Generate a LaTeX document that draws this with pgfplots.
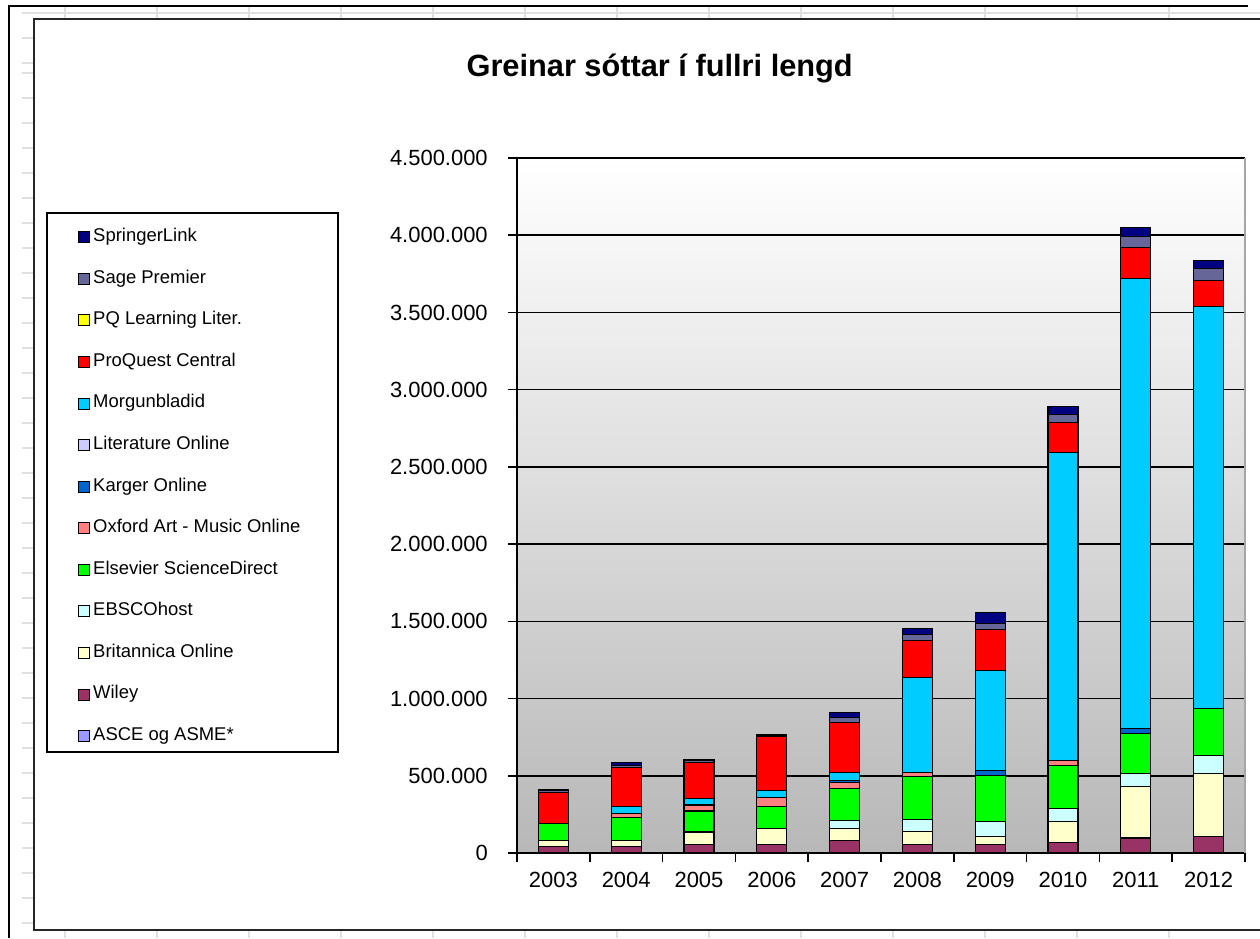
\documentclass[border=0pt]{standalone}
\usepackage{pgfplots}
\pgfplotsset{compat=1.18}
\usepackage{pgfplotstable}
\usepackage{fontspec}
\setmainfont{Liberation Sans}

\definecolor{cSpringer}{HTML}{000080}
\definecolor{cSage}{HTML}{666699}
\definecolor{cPQL}{HTML}{FFFF00}
\definecolor{cProQuest}{HTML}{FF0000}
\definecolor{cMorg}{HTML}{00CCFF}
\definecolor{cLit}{HTML}{CCCCFF}
\definecolor{cKarger}{HTML}{0066CC}
\definecolor{cOxford}{HTML}{FF8080}
\definecolor{cElsevier}{HTML}{00FF00}
\definecolor{cEBSCO}{HTML}{CCFFFF}
\definecolor{cBrit}{HTML}{FFFFCC}
\definecolor{cWiley}{HTML}{993366}
\definecolor{cASCE}{HTML}{9999FF}

% values in thousands
\pgfplotstableread{
x  wiley brit ebsco elsevier oxford karger morg proquest sage springer
0  45  37  0   112  0   0   0     200  8   9
1  45  37  0   147  28  0   47    248  16  16
2  56  75  5   136  37  8   38    233  8   8
3  56  101 0   147  54  0   47    347  8   7
4  84  73  54  205  39  15  50    323  37  28
5  56  86  75  280  22  0   618   239  37  43
6  58  50  97  295  0   32  652   263  39  69
7  69  136 86  276  30  0   1994  198  50  54
8  97  334 86  259  0   32  2913  198  75  54
9  108 409 114 306  0   0   2599  172  75  54
}\data

\pgfplotsset{
  sq/.style={legend image code/.code={\draw[##1,draw=black,line width=0.5pt] (0cm,-0.11cm) rectangle (0.22cm,0.11cm);}},
}

\begin{document}
\begin{tikzpicture}
% bounding box: 1 px = 0.02 cm, origin at axis lower left (px 517, 853)
\useasboundingbox (-10.34cm,-1.7cm) rectangle (14.86cm,17.06cm);
% spreadsheet background lines
\foreach \gx in {65,157,249,341,433,525,617,709,801,893,985,1077,1169}{
  \draw[black!12, line width=1pt] ({(\gx-517)*0.02cm},{(853-6)*0.02cm}) -- ({(\gx-517)*0.02cm},{(853-19)*0.02cm});
  \draw[black!12, line width=1pt] ({(\gx-517)*0.02cm},{(853-930)*0.02cm}) -- ({(\gx-517)*0.02cm},{(853-938)*0.02cm});
}
\draw[black!12, line width=1pt] ({(22-517)*0.02cm},{(853-13)*0.02cm}) -- ({(1260-517)*0.02cm},{(853-13)*0.02cm});
\foreach \gy in {38,63,73,98,123,148,173,198,223,248,273,298,323,348,373,398,423,448,473,498,523,548,573,598,623,648,673,698,723,748,773,798,823,848,873,898,923}{
  \draw[black!12, line width=1pt] ({(22-517)*0.02cm},{(853-\gy)*0.02cm}) -- ({(34-517)*0.02cm},{(853-\gy)*0.02cm});
}
% outer black line
\draw[black, line width=1.5pt] ({(9-517)*0.02cm},{(853-938)*0.02cm}) -- ({(9-517)*0.02cm},{(853-6)*0.02cm}) -- ({(1248-517)*0.02cm},{(853-6)*0.02cm});
% chart area border
\draw[black!85, line width=1.4pt] ({(1262-517)*0.02cm},{(853-19)*0.02cm}) -- ({(34-517)*0.02cm},{(853-19)*0.02cm}) -- ({(34-517)*0.02cm},{(853-930)*0.02cm}) -- ({(1262-517)*0.02cm},{(853-930)*0.02cm});
% legend box
\draw[black, line width=0.9pt] ({(47-517)*0.02cm},{(853-213)*0.02cm}) rectangle ({(338-517)*0.02cm},{(853-752)*0.02cm});

\begin{axis}[
  at={(0,0)}, anchor=south west,
  scale only axis,
  width=14.56cm, height=13.9cm,
  ybar stacked, bar width=0.6cm,
  xmin=-0.5, xmax=9.5,
  ymin=0, ymax=4500,
  xtick={-0.5,0.5,1.5,2.5,3.5,4.5,5.5,6.5,7.5,8.5,9.5},
  x tick label as interval,
  xticklabels={2003,2004,2005,2006,2007,2008,2009,2010,2011,2012},
  ytick={0,500,...,4500},
  yticklabels={0,500.000,1.000.000,1.500.000,2.000.000,2.500.000,3.000.000,3.500.000,4.000.000,4.500.000},
  axis x line*=bottom, axis y line*=left,
  axis line style={-, black, line width=0.9pt},
  tick align=outside, major tick length=0.18cm,
  tick style={black, line width=0.9pt},
  ymajorgrids, grid style={black, line width=0.9pt},
  axis background/.style={top color=white, bottom color=black!28},
  tick label style={font=\fontsize{12.5}{14}\selectfont},
  xticklabel style={yshift=-2pt},
  yticklabel style={xshift=-8pt},
  legend style={draw=none, fill=none, at={(-0.603,0.8978)}, anchor=north west,
    inner sep=0pt, row sep=14.65pt, column sep=0.06cm,
    font=\fontsize{10.5}{12}\selectfont,
    nodes={inner sep=0pt, text height=7pt, text depth=2pt, anchor=west}},
  legend cell align=left,
  reverse legend,
  clip=false,
]
\addlegendimage{sq, fill=cASCE}\addlegendentry{ASCE og ASME*}
\addplot[sq, fill=cWiley, draw=black, line width=0.6pt] table[x=x,y=wiley]{\data};\addlegendentry{Wiley}
\addplot[sq, fill=cBrit, draw=black, line width=0.6pt] table[x=x,y=brit]{\data};\addlegendentry{Britannica Online}
\addplot[sq, fill=cEBSCO, draw=black, line width=0.6pt] table[x=x,y=ebsco]{\data};\addlegendentry{EBSCOhost}
\addplot[sq, fill=cElsevier, draw=black, line width=0.6pt] table[x=x,y=elsevier]{\data};\addlegendentry{Elsevier ScienceDirect}
\addplot[sq, fill=cOxford, draw=black, line width=0.6pt] table[x=x,y=oxford]{\data};\addlegendentry{Oxford Art - Music Online}
\addplot[sq, fill=cKarger, draw=black, line width=0.6pt] table[x=x,y=karger]{\data};\addlegendentry{Karger Online}
\addlegendimage{sq, fill=cLit}\addlegendentry{Literature Online}
\addplot[sq, fill=cMorg, draw=black, line width=0.6pt] table[x=x,y=morg]{\data};\addlegendentry{Morgunbladid}
\addplot[sq, fill=cProQuest, draw=black, line width=0.6pt] table[x=x,y=proquest]{\data};\addlegendentry{ProQuest Central}
\addlegendimage{sq, fill=cPQL}\addlegendentry{PQ Learning Liter.}
\addplot[sq, fill=cSage, draw=black, line width=0.6pt] table[x=x,y=sage]{\data};\addlegendentry{Sage Premier}
\addplot[sq, fill=cSpringer, draw=black, line width=0.6pt] table[x=x,y=springer]{\data};\addlegendentry{SpringerLink}
\draw[black!35, line width=0.8pt] (rel axis cs:1,0) -- (rel axis cs:1,1);
\node[font=\fontsize{17.5}{20}\bfseries\selectfont] at (rel axis cs:0.196,1.129) {Greinar sóttar í fullri lengd};
\end{axis}
\end{tikzpicture}
\end{document}
